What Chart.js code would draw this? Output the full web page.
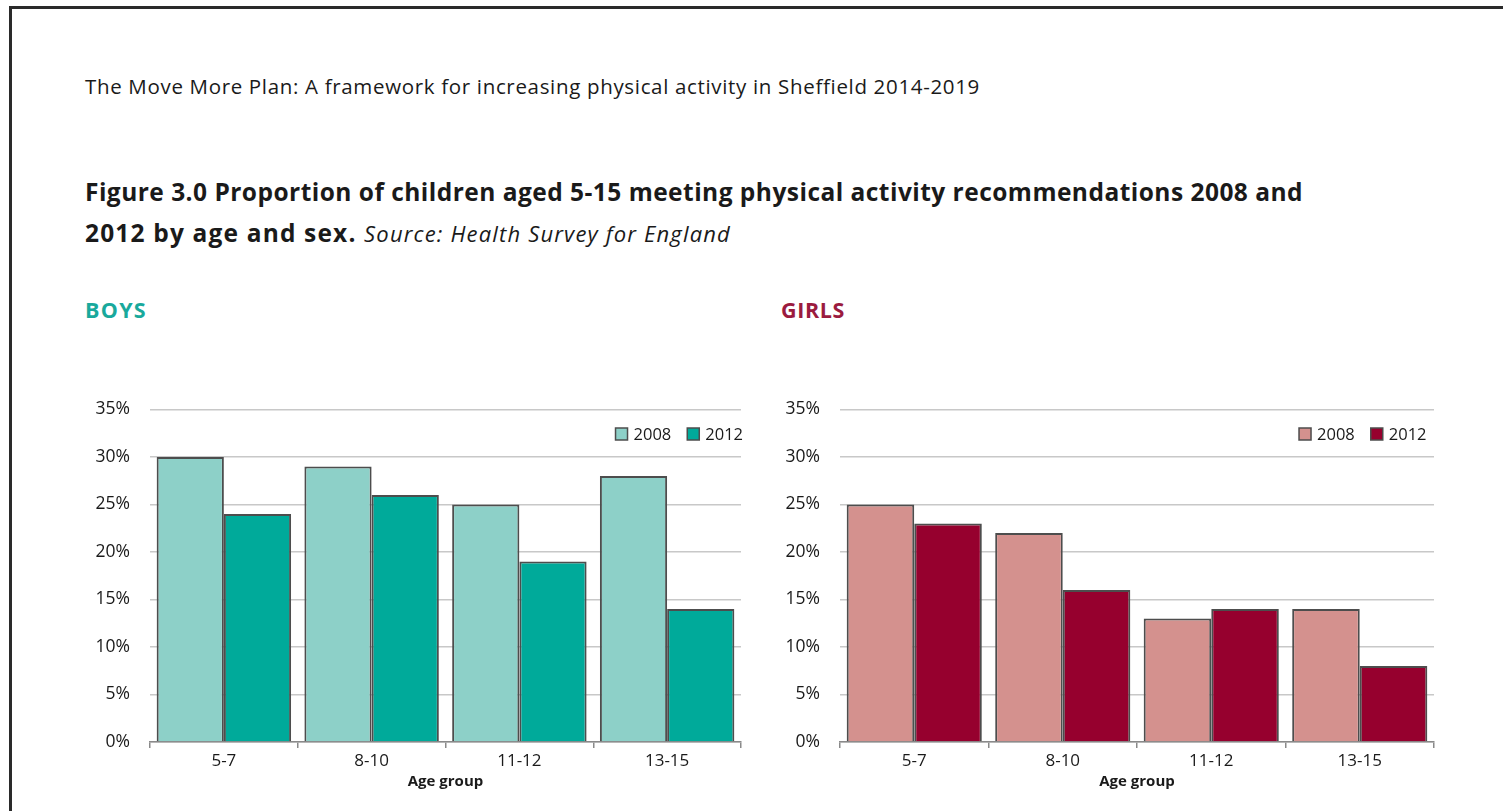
<!DOCTYPE html>
<html>
<head>
<meta charset="utf-8">
<script src="https://cdn.jsdelivr.net/npm/chart.js@4.4.1/dist/chart.umd.min.js"></script>
<style>
  html, body { margin:0; padding:0; background:#fff; width:1503px; height:811px; overflow:hidden; }
  .frame { position:absolute; left:9px; top:6px; width:1600px; height:900px; border:3px solid #2a2a2a; box-sizing:border-box; }
  .txt { position:absolute; font-family: "Open Sans", sans-serif; white-space:nowrap; color:#1a1a1a; display:inline-block; }
  #plan { left:85px; top:76px; font-size:20.5px; line-height:20.5px; }
  #fig1 { left:85px; top:180px; font-size:24.5px; line-height:24.5px; font-weight:bold; }
  #fig2 { left:85px; top:221px; font-size:24.5px; line-height:24.5px; font-weight:bold; }
  #fig2 i { font-weight:normal; font-size:22px; }
  #boys { left:85px; top:299px; font-size:21.5px; line-height:21.5px; font-weight:bold; color:#19a99c; }
  #girls { left:781px; top:299px; font-size:21.5px; line-height:21.5px; font-weight:bold; color:#9b1b3f; }
  .cv { position:absolute; }
</style>
</head>
<body>
<div class="frame"></div>
<div class="txt" id="plan" data-w="895">The Move More Plan: A framework for increasing physical activity in Sheffield 2014-2019</div>
<div class="txt" id="fig1" data-w="1218">Figure 3.0 Proportion of children aged 5-15 meeting physical activity recommendations 2008 and</div>
<div class="txt" id="fig2" data-w="646">2012 by age and sex. <i>Source: Health Survey for England</i></div>
<div class="txt" id="boys" data-w="62">BOYS</div>
<div class="txt" id="girls" data-w="64">GIRLS</div>
<div class="cv" style="left:60px;top:379px;width:690px;height:431px;"><canvas id="cBoys" width="690" height="431"></canvas></div>
<div class="cv" style="left:750px;top:379px;width:693px;height:431px;"><canvas id="cGirls" width="693" height="431"></canvas></div>
<script>
const ageGroups = ["5-7", "8-10", "11-12", "13-15"];
const seriesLabels = ["2008", "2012"];
const boys2008 = [30, 29, 25, 28];
const boys2012 = [24, 26, 19, 14];
const girls2008 = [25, 22, 13, 14];
const girls2012 = [23, 16, 14, 8];
const yTicks = [0, 5, 10, 15, 20, 25, 30, 35];

// fit heading widths to the reference
document.querySelectorAll('.txt[data-w]').forEach(el => {
  const target = parseFloat(el.dataset.w);
  const w = el.getBoundingClientRect().width;
  const n = el.textContent.length;
  el.style.letterSpacing = ((target - w) / n) + 'px';
});

const FONT = "'Open Sans', sans-serif";

const cornerLegend = {
  id: 'cornerLegend',
  afterDraw(chart, args, opts) {
    const ctx = chart.ctx, ca = chart.chartArea;
    const ds = chart.data.datasets;
    ctx.save();
    ctx.font = '16.5px ' + FONT;
    ctx.textBaseline = 'middle';
    ctx.textAlign = 'left';
    const box = 12, gap = 6, itemGap = 16;
    const widths = ds.map(d => ctx.measureText(d.label).width);
    let total = 0;
    widths.forEach((w, i) => { total += box + gap + w + (i < widths.length - 1 ? itemGap : 0); });
    let x = ca.right + opts.rightOffset - total;
    const yc = ca.top + 24.5;
    ds.forEach((d, i) => {
      ctx.fillStyle = d.backgroundColor;
      ctx.fillRect(x, yc - box / 2, box, box);
      ctx.strokeStyle = '#4d4d4d';
      ctx.lineWidth = 1.5;
      ctx.strokeRect(x, yc - box / 2, box, box);
      ctx.fillStyle = '#1a1a1a';
      ctx.fillText(d.label, x + box + gap, yc + 1);
      x += box + gap + widths[i] + itemGap;
    });
    ctx.restore();
  }
};

function makeChart(id, d1, d2, c1, c2, rightOffset) {
  return new Chart(document.getElementById(id), {
    type: 'bar',
    data: {
      labels: ageGroups,
      datasets: [
        { label: seriesLabels[0], data: d1, backgroundColor: c1, borderColor: '#4d4d4d', borderWidth: 2 },
        { label: seriesLabels[1], data: d2, backgroundColor: c2, borderColor: '#4d4d4d', borderWidth: 2 }
      ]
    },
    plugins: [cornerLegend],
    options: {
      responsive: false,
      animation: false,
      layout: { padding: { top: 0, right: 9, bottom: 6, left: 0 } },
      datasets: { bar: { categoryPercentage: 0.91, barPercentage: 1.0 } },
      plugins: {
        tooltip: { enabled: false },
        legend: { display: false },
        cornerLegend: { rightOffset: rightOffset }
      },
      scales: {
        x: {
          grid: { display: true, offset: true, drawOnChartArea: false, drawTicks: true, tickLength: 6, color: '#8a8a8a', lineWidth: 1.5 },
          border: { display: true, color: '#8a8a8a', width: 1.5 },
          ticks: { color: '#1a1a1a', font: { family: FONT, size: 17 }, padding: 3 },
          title: { display: true, text: 'Age group', color: '#1a1a1a', font: { family: FONT, size: 15, weight: 'bold' }, padding: { top: 0, bottom: 13 } },
          afterFit: s => { s.height = 62; }
        },
        y: {
          min: 0, max: 35,
          afterBuildTicks: s => { s.ticks = yTicks.map(v => ({ value: v })); },
          grid: { color: '#c8c8c8', lineWidth: 1.5, drawTicks: false },
          border: { display: false },
          ticks: { color: '#1a1a1a', font: { family: FONT, size: 17.5 }, padding: 20, callback: v => v + '%' },
          afterFit: s => { s.width = 90; }
        }
      }
    }
  });
}

makeChart('cBoys', boys2008, boys2012, '#8dd0c8', '#00aa9a', 2);
makeChart('cGirls', girls2008, girls2012, '#d4918e', '#96002e', -7.5);
</script>
</body>
</html>
